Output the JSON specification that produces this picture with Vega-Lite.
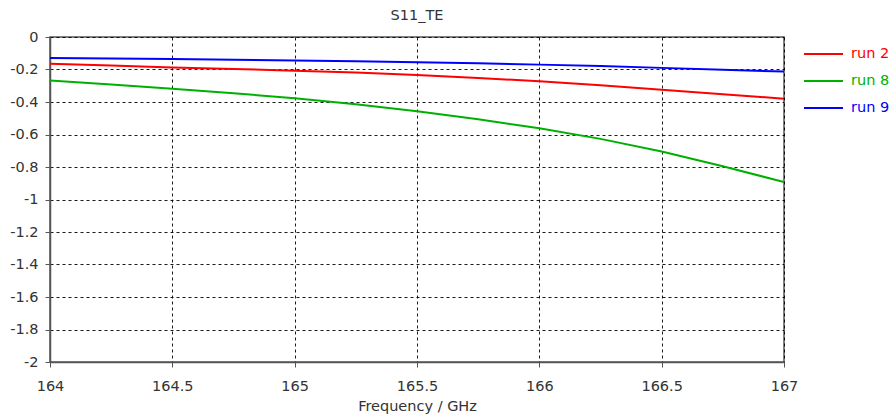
{
  "$schema": "https://vega.github.io/schema/vega-lite/v6.json",
  "width": 734,
  "height": 325,
  "autosize": {"type": "none"},
  "padding": {"left": 50, "top": 37, "right": 106, "bottom": 56},
  "background": "white",
  "title": {"text": "S11_TE", "font": "DejaVu Sans", "fontSize": 14.5, "fontWeight": "normal", "color": "#333333", "anchor": "middle", "offset": 6},
  "config": {
    "view": {"stroke": "#555555", "strokeWidth": 1.5},
    "axis": {
      "labelFont": "DejaVu Sans", "labelFontSize": 14.5, "labelColor": "#333333",
      "titleFont": "DejaVu Sans", "titleFontSize": 14.5, "titleFontWeight": "normal", "titleColor": "#333333",
      "domainColor": "#555555", "domainWidth": 1.5, "tickColor": "#555555", "tickSize": 5,
      "gridColor": "#000000", "gridDash": [3, 3], "gridWidth": 1, "gridOpacity": 0.9
    }
  },
  "data": {"values": [
    {"freq": 164, "s11": -0.165, "run": "run 2"},
    {"freq": 164.25, "s11": -0.176, "run": "run 2"},
    {"freq": 164.5, "s11": -0.187, "run": "run 2"},
    {"freq": 164.75, "s11": -0.197, "run": "run 2"},
    {"freq": 165, "s11": -0.207, "run": "run 2"},
    {"freq": 165.25, "s11": -0.219, "run": "run 2"},
    {"freq": 165.5, "s11": -0.234, "run": "run 2"},
    {"freq": 165.75, "s11": -0.252, "run": "run 2"},
    {"freq": 166, "s11": -0.273, "run": "run 2"},
    {"freq": 166.25, "s11": -0.297, "run": "run 2"},
    {"freq": 166.5, "s11": -0.324, "run": "run 2"},
    {"freq": 166.75, "s11": -0.352, "run": "run 2"},
    {"freq": 167, "s11": -0.38, "run": "run 2"},
    {"freq": 164, "s11": -0.267, "run": "run 8"},
    {"freq": 164.25, "s11": -0.292, "run": "run 8"},
    {"freq": 164.5, "s11": -0.318, "run": "run 8"},
    {"freq": 164.75, "s11": -0.346, "run": "run 8"},
    {"freq": 165, "s11": -0.377, "run": "run 8"},
    {"freq": 165.25, "s11": -0.414, "run": "run 8"},
    {"freq": 165.5, "s11": -0.457, "run": "run 8"},
    {"freq": 165.75, "s11": -0.506, "run": "run 8"},
    {"freq": 166, "s11": -0.562, "run": "run 8"},
    {"freq": 166.25, "s11": -0.627, "run": "run 8"},
    {"freq": 166.5, "s11": -0.705, "run": "run 8"},
    {"freq": 166.75, "s11": -0.795, "run": "run 8"},
    {"freq": 167, "s11": -0.893, "run": "run 8"},
    {"freq": 164, "s11": -0.129, "run": "run 9"},
    {"freq": 164.25, "s11": -0.132, "run": "run 9"},
    {"freq": 164.5, "s11": -0.136, "run": "run 9"},
    {"freq": 164.75, "s11": -0.14, "run": "run 9"},
    {"freq": 165, "s11": -0.144, "run": "run 9"},
    {"freq": 165.25, "s11": -0.149, "run": "run 9"},
    {"freq": 165.5, "s11": -0.155, "run": "run 9"},
    {"freq": 165.75, "s11": -0.162, "run": "run 9"},
    {"freq": 166, "s11": -0.17, "run": "run 9"},
    {"freq": 166.25, "s11": -0.179, "run": "run 9"},
    {"freq": 166.5, "s11": -0.19, "run": "run 9"},
    {"freq": 166.75, "s11": -0.201, "run": "run 9"},
    {"freq": 167, "s11": -0.213, "run": "run 9"}
  ]},
  "mark": {"type": "line", "strokeWidth": 2, "clip": true},
  "encoding": {
    "x": {
      "field": "freq", "type": "quantitative",
      "scale": {"domain": [164, 167], "nice": false, "zero": false},
      "axis": {"values": [164, 164.5, 165, 165.5, 166, 166.5, 167], "labelExpr": "'' + datum.value", "title": "Frequency / GHz", "labelPadding": 12, "titlePadding": 7, "labelFlush": false}
    },
    "y": {
      "field": "s11", "type": "quantitative",
      "scale": {"domain": [-2, 0], "nice": false, "zero": false},
      "axis": {"values": [0, -0.2, -0.4, -0.6, -0.8, -1, -1.2, -1.4, -1.6, -1.8, -2], "labelExpr": "'' + round(datum.value * 10) / 10", "title": null, "labelPadding": 7, "labelFlush": false}
    },
    "color": {
      "field": "run", "type": "nominal",
      "scale": {"domain": ["run 2", "run 8", "run 9"], "range": ["#ff0000", "#00b000", "#0000ff"]},
      "legend": {
        "orient": "none", "legendX": 753, "legendY": -3.5, "title": null,
        "symbolType": "stroke", "symbolSize": 1521, "symbolStrokeWidth": 2,
        "rowPadding": -19, "padding": 0,
        "labelFont": "DejaVu Sans", "labelFontSize": 14.5, "labelOffset": 7,
        "encode": {"labels": {"update": {"fill": {"signal": "scale('color', datum.value)"}}}}
      }
    }
  }
}
